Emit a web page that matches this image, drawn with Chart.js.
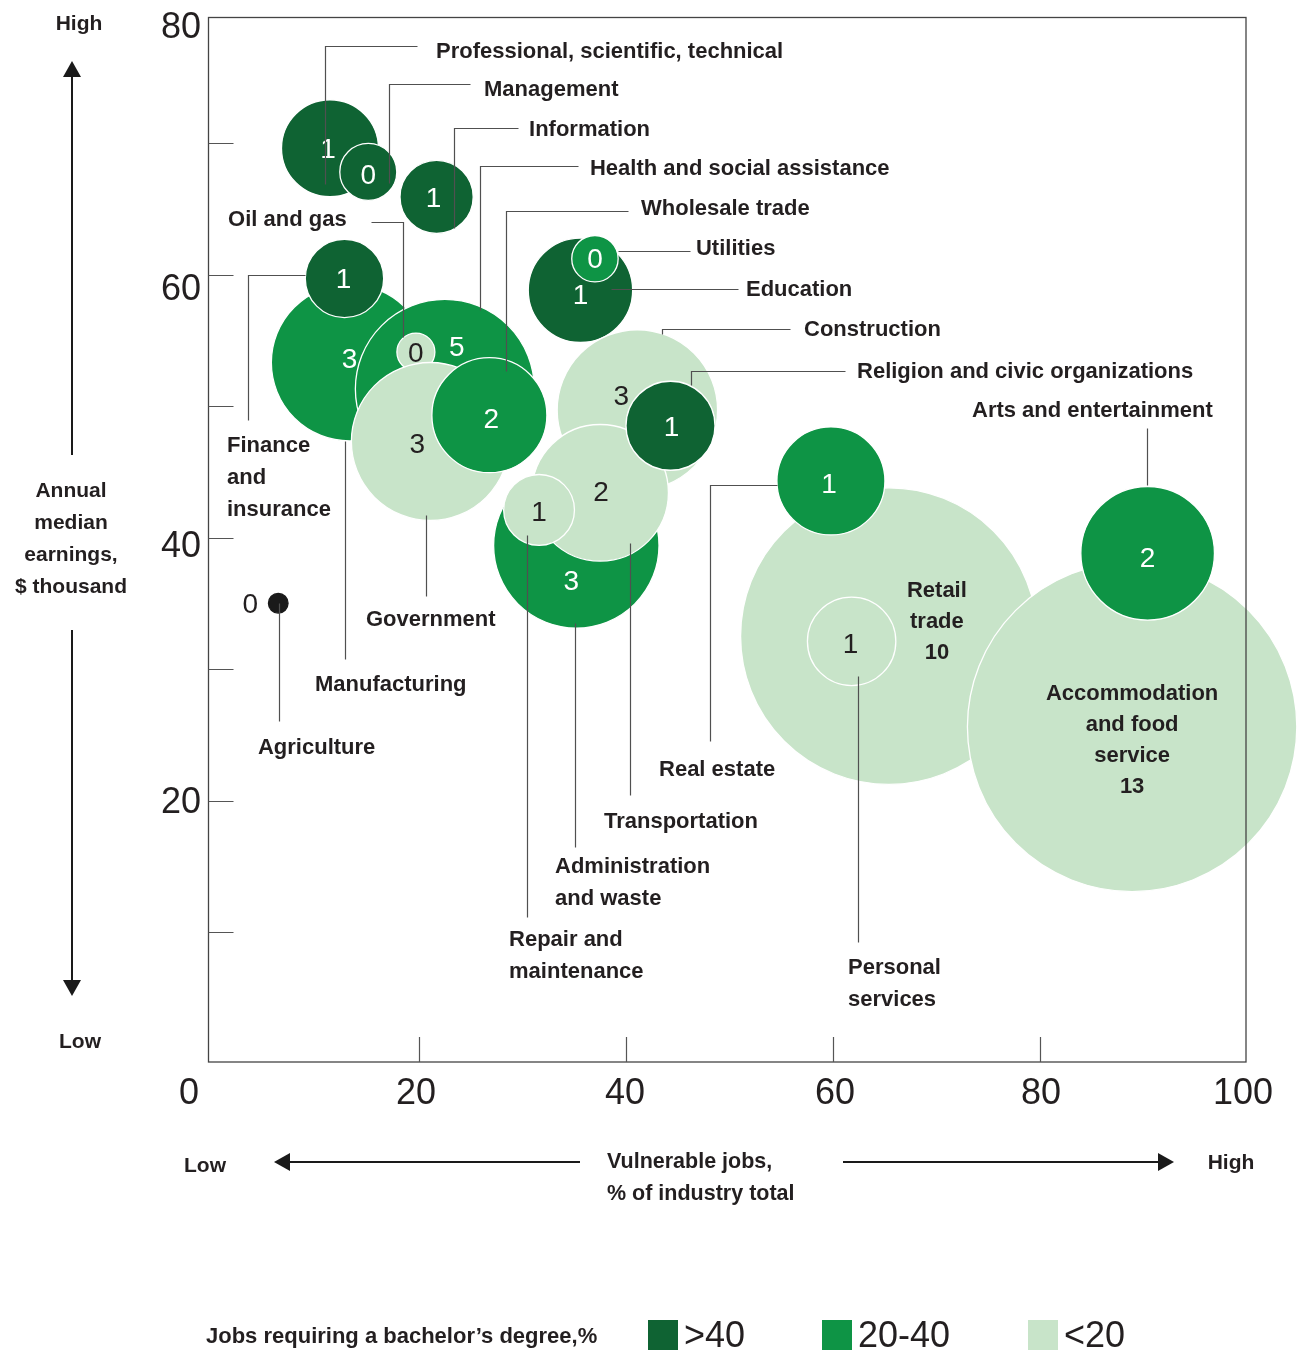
<!DOCTYPE html>
<html>
<head>
<meta charset="utf-8">
<script src="https://cdn.jsdelivr.net/npm/chart.js@4.4.0/dist/chart.umd.min.js"></script>
<style>
  html, body { margin: 0; padding: 0; background: #fff; }
  canvas { display: block; }
</style>
</head>
<body>
<canvas id="chart" width="1298" height="1350"></canvas>
<script>
// ---------- data ----------
const industries = [
  "Professional, scientific, technical", "Management", "Information", "Manufacturing",
  "Finance and insurance", "Health and social assistance", "Oil and gas", "Government",
  "Wholesale trade", "Education", "Utilities", "Construction", "Administration and waste",
  "Transportation", "Religion and civic organizations", "Repair and maintenance",
  "Agriculture", "Retail trade", "Real estate", "Personal services",
  "Accommodation and food service", "Arts and entertainment"
];
const vulnerableJobs = [11.4, 15.1, 21.7, 13.3, 12.8, 22.5, 19.7, 21.1, 26.8, 35.6, 37.0,
  41.1, 35.2, 37.5, 44.3, 31.6, 6.4, 65.4, 59.8, 61.8, 88.9, 90.4];
const medianEarnings = [69.6, 67.8, 65.9, 53.3, 59.7, 51.3, 54.1, 47.3, 49.3, 58.8, 61.2,
  49.7, 39.4, 43.4, 48.5, 42.1, 35.0, 32.5, 44.3, 32.1, 25.6, 38.8];
const bubbleSize = [48.5, 28.5, 36.6, 78.3, 39.2, 89.5, 19, 79, 57.5, 52.2, 23.2,
  80.2, 82.7, 68.3, 44.5, 35.4, 9.8, 148.3, 54, 44.2, 164.7, 66.8];
const jobShare = [1, 0, 1, 3, 1, 5, 0, 3, 2, 1, 0, 3, 3, 2, 1, 1, 0, 10, 1, 1, 13, 2];
const degreeGroup = [">40", ">40", ">40", "20-40", ">40", "20-40", "<20", "<20", "20-40",
  ">40", "20-40", "<20", "20-40", "<20", ">40", "<20", null, "<20", "20-40", "<20", "<20", "20-40"];

const groups = [">40", "20-40", "<20"];
const xTickLabels = [0, 20, 40, 60, 80, 100];
const yTickLabels = [20, 40, 60, 80];
const yTickMarks = [10, 20, 30, 40, 50, 60, 70];
const xTickMarks = [20, 40, 60, 80];

// ---------- styles ----------
const groupColors = { ">40": "#0f6333", "20-40": "#0e9445", "<20": "#c8e4c9" };
const TEXT = "#231f20";
const LINE = "#505050";
const FONT = '"Liberation Sans", Arial, sans-serif';

// y tick labels sit a little below their tick, more so near the top
const yLabelShift = { 20: 3, 40: 10, 60: 16, 80: 17 };
const xLabelShift = { 0: -23, 20: -3, 40: -1, 60: 2, 80: 1, 100: -4 };

// number position inside each bubble, px offset from centre
const innerOffset = [[-2, 0], [0, 2], [-3, 0], [0, -4], [-1, 0], [12, -43], [0, 0], [-13, 2],
  [2, 3], [0, 4], [0, 0], [-16, -15], [-5, 35], [1, -2], [1, 1], [0, 1], [-28, 0],
  null, [-2, 2], [-1, 2], null, [0, 4]];

// name written inside the bubble instead of a callout
const innerNames = {
  17: { lines: ["Retail", "trade", "10"], dx: 48, dy: -45 },
  20: { lines: ["Accommodation", "and food", "service", "13"], dx: 0, dy: -33 }
};

// callouts: label anchor and leader path in data units
const callouts = [
  { lines: ["Professional, scientific, technical"], at: [21.64, 76.92], path: [[19.78, 77.4], [10.92, 77.4], [10.92, 66.89]] },
  { lines: ["Management"], at: [26.28, 74.03], path: [[24.93, 74.49], [17.13, 74.49], [17.13, 66.98]] },
  { lines: ["Information"], at: [30.63, 70.99], path: [[29.57, 71.16], [23.41, 71.16], [23.41, 63.51]] },
  { lines: ["Health and social assistance"], at: [36.52, 68.02], path: [[35.36, 68.27], [25.89, 68.27], [25.89, 57.3]] },
  { lines: ["Wholesale trade"], at: [41.45, 64.98], path: [[40.19, 64.85], [28.38, 64.85], [28.38, 52.68]] },
  { lines: ["Oil and gas"], at: [1.55, 64.12], path: [[15.36, 63.97], [18.41, 63.97], [18.41, 55.27]] },
  { lines: ["Utilities"], at: [46.76, 61.94], path: [[39.26, 61.79], [46.18, 61.79]] },
  { lines: ["Education"], at: [51.59, 58.82], path: [[38.55, 58.92], [50.85, 58.92]] },
  { lines: ["Construction"], at: [57.2, 55.78], path: [[55.85, 55.86], [43.51, 55.86], [43.51, 55.48]] },
  { lines: ["Religion and civic organizations"], at: [62.32, 52.59], path: [[61.16, 52.68], [46.25, 52.68], [46.25, 51.6]] },
  { lines: ["Arts and entertainment"], at: [73.43, 49.62], path: [[90.29, 48.33], [90.29, 43.99]] },
  { lines: ["Finance", "and", "insurance"], at: [1.45, 47.0], path: [[8.99, 59.94], [3.48, 59.94], [3.48, 48.94]] },
  { lines: ["Manufacturing"], at: [9.95, 28.8], path: [[12.85, 47.34], [12.85, 30.76]] },
  { lines: ["Government"], at: [14.88, 33.75], path: [[20.68, 41.71], [20.68, 35.55]] },
  { lines: ["Agriculture"], at: [4.44, 24.0], path: [[6.47, 35.04], [6.47, 26.07]] },
  { lines: ["Repair and", "maintenance"], at: [28.7, 9.4], path: [[30.41, 40.19], [30.41, 11.14]] },
  { lines: ["Administration", "and waste"], at: [33.14, 14.95], path: [[35.07, 33.48], [35.07, 16.46]] },
  { lines: ["Transportation"], at: [37.87, 18.37], path: [[40.34, 39.56], [40.34, 20.42]] },
  { lines: ["Real estate"], at: [43.19, 22.33], path: [[54.56, 43.99], [48.12, 43.99], [48.12, 24.52]] },
  { lines: ["Personal", "services"], at: [61.45, 7.27], path: [[62.42, 29.47], [62.42, 9.24]] }
];

// ---------- helpers ----------
function drawText(ctx, str, x, y, font, align, color) {
  ctx.font = font;
  ctx.textAlign = align;
  ctx.textBaseline = "middle";
  ctx.fillStyle = color || TEXT;
  ctx.fillText(str, x, y);
}

function arrowHead(ctx, tipX, tipY, dir) {
  ctx.beginPath();
  if (dir === "up") { ctx.moveTo(tipX, tipY); ctx.lineTo(tipX - 9, tipY + 16); ctx.lineTo(tipX + 9, tipY + 16); }
  if (dir === "down") { ctx.moveTo(tipX, tipY); ctx.lineTo(tipX - 9, tipY - 16); ctx.lineTo(tipX + 9, tipY - 16); }
  if (dir === "left") { ctx.moveTo(tipX, tipY); ctx.lineTo(tipX + 16, tipY - 9); ctx.lineTo(tipX + 16, tipY + 9); }
  if (dir === "right") { ctx.moveTo(tipX, tipY); ctx.lineTo(tipX - 16, tipY - 9); ctx.lineTo(tipX - 16, tipY + 9); }
  ctx.closePath();
  ctx.fillStyle = "#1a1a1a";
  ctx.fill();
}

// ---------- plugin: frame, ticks, labels, callouts, legend ----------
const decorPlugin = {
  id: "decor",
  afterDatasetsDraw(chart) {
    const ctx = chart.ctx;
    const xs = chart.scales.x;
    const ys = chart.scales.y;
    const left = 208.5, right = 1246, top = 17.5, bottom = 1062;

    ctx.save();

    // frame
    ctx.strokeStyle = "#444";
    ctx.lineWidth = 1.3;
    ctx.strokeRect(left, top, right - left, bottom - top);

    // tick marks
    ctx.beginPath();
    yTickMarks.forEach(v => {
      const py = Math.round(ys.getPixelForValue(v)) + 0.5;
      ctx.moveTo(left, py); ctx.lineTo(left + 25, py);
    });
    xTickMarks.forEach(v => {
      const px = Math.round(xs.getPixelForValue(v)) + 0.5;
      ctx.moveTo(px, bottom); ctx.lineTo(px, bottom - 25);
    });
    ctx.strokeStyle = "#555";
    ctx.lineWidth = 1.2;
    ctx.stroke();

    // tick labels
    yTickLabels.forEach(v => {
      drawText(ctx, String(v), 201, ys.getPixelForValue(v) + yLabelShift[v], "36px " + FONT, "right");
    });
    xTickLabels.forEach(v => {
      drawText(ctx, String(v), xs.getPixelForValue(v) + xLabelShift[v], 1094, "36px " + FONT, "center");
    });

    // numbers inside bubbles
    const meta = chart.getDatasetMeta(0);
    meta.data.forEach((pt, i) => {
      const light = degreeGroup[i] === "<20" || degreeGroup[i] === null;
      const color = light ? TEXT : "#ffffff";
      if (innerNames[i]) {
        const n = innerNames[i];
        n.lines.forEach((ln, k) => {
          drawText(ctx, ln, pt.x + n.dx, pt.y + n.dy + k * 31, "bold 22px " + FONT, "center", color);
        });
        return;
      }
      const off = innerOffset[i];
      drawText(ctx, String(jobShare[i]), pt.x + off[0], pt.y + off[1] + 2, "28px " + FONT, "center", color);
    });

    // callouts
    ctx.strokeStyle = LINE;
    ctx.lineWidth = 1.2;
    callouts.forEach(c => {
      ctx.beginPath();
      c.path.forEach((p, k) => {
        const px = Math.round(xs.getPixelForValue(p[0])) + 0.5;
        const py = Math.round(ys.getPixelForValue(p[1])) + 0.5;
        if (k === 0) ctx.moveTo(px, py); else ctx.lineTo(px, py);
      });
      ctx.stroke();
      const ax = xs.getPixelForValue(c.at[0]);
      const ay = ys.getPixelForValue(c.at[1]);
      c.lines.forEach((ln, k) => {
        drawText(ctx, ln, ax, ay + k * 32, "bold 22px " + FONT, "left");
      });
    });

    // axis arrows
    ctx.strokeStyle = "#1a1a1a";
    ctx.lineWidth = 2;
    ctx.beginPath();
    ctx.moveTo(72, 455); ctx.lineTo(72, 70);
    ctx.moveTo(72, 630); ctx.lineTo(72, 985);
    ctx.moveTo(580, 1162); ctx.lineTo(285, 1162);
    ctx.moveTo(843, 1162); ctx.lineTo(1163, 1162);
    ctx.stroke();
    arrowHead(ctx, 72, 61, "up");
    arrowHead(ctx, 72, 996, "down");
    arrowHead(ctx, 274, 1162, "left");
    arrowHead(ctx, 1174, 1162, "right");

    // axis titles
    drawText(ctx, "High", 79, 24, "bold 21px " + FONT, "center");
    drawText(ctx, "Low", 80, 1042, "bold 21px " + FONT, "center");
    ["Annual", "median", "earnings,", "$ thousand"].forEach((ln, k) => {
      drawText(ctx, ln, 71, 491 + k * 32, "bold 21px " + FONT, "center");
    });

    drawText(ctx, "Low", 205, 1166, "bold 21px " + FONT, "center");
    drawText(ctx, "High", 1231, 1163, "bold 21px " + FONT, "center");
    drawText(ctx, "Vulnerable jobs,", 607, 1162, "bold 21.5px " + FONT, "left");
    drawText(ctx, "% of industry total", 607, 1194, "bold 21.5px " + FONT, "left");

    // legend
    drawText(ctx, "Jobs requiring a bachelor\u2019s degree,%", 206, 1337, "bold 22px " + FONT, "left");
    const legendX = [648, 822, 1028];
    groups.forEach((g, k) => {
      ctx.fillStyle = groupColors[g];
      ctx.fillRect(legendX[k], 1320, 30, 30);
      drawText(ctx, g, legendX[k] + 36, 1337, "36px " + FONT, "left");
    });

    ctx.restore();
  }
};

// ---------- chart ----------
const points = industries.map((name, i) => ({
  x: vulnerableJobs[i],
  y: medianEarnings[i],
  r: bubbleSize[i]
}));

new Chart(document.getElementById("chart").getContext("2d"), {
  type: "bubble",
  data: {
    datasets: [{
      label: "Industries",
      data: points,
      backgroundColor: degreeGroup.map(g => g ? groupColors[g] : "#1a1a1a"),
      borderColor: degreeGroup.map(g => g ? "#ffffff" : "#1a1a1a"),
      borderWidth: 1.3,
      hoverRadius: 0,
      clip: false
    }]
  },
  options: {
    responsive: false,
    animation: false,
    devicePixelRatio: 1,
    events: [],
    layout: {
      autoPadding: false,
      padding: { left: 212, right: 51, top: 11.5, bottom: 286.5 }
    },
    scales: {
      x: { type: "linear", min: 0, max: 100, display: false },
      y: { type: "linear", min: 0, max: 80, display: false }
    },
    plugins: {
      legend: { display: false },
      tooltip: { enabled: false }
    }
  },
  plugins: [decorPlugin]
});
</script>
</body>
</html>
